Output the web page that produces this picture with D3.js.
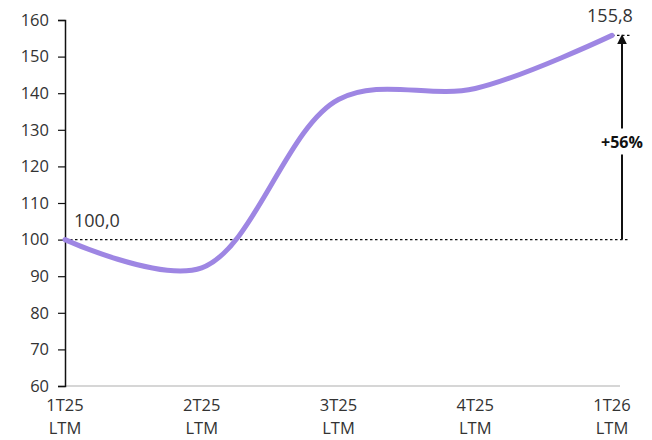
<!DOCTYPE html>
<html>
<head>
<meta charset="utf-8">
<script src="https://cdn.jsdelivr.net/npm/d3@7"></script>
<style>
  body { margin: 0; background: #fff; }
  svg text { font-family: "Open Sans", "Noto Sans", sans-serif; }
</style>
</head>
<body>
<div id="chart"></div>
<script>
"use strict"

let categories = ["1T25", "2T25", "3T25", "4T25", "1T26"];
let subLabel = "LTM";
let values = [100.0, 92.3, 138.3, 141.3, 155.8];
let yTicks = [60, 70, 80, 90, 100, 110, 120, 130, 140, 150, 160];
let changeLabel = "+56%";

let width = 652, height = 440;
let svg = d3.select("#chart").append("svg")
    .attr("width", width)
    .attr("height", height)

let x = d3.scalePoint()
    .domain(categories)
    .range([65, 612]);

let y = d3.scaleLinear()
    .domain([60, 160])
    .range([386, 20]);

// x baseline (grey)
svg.append("line")
    .attr("x1", 65).attr("x2", 620)
    .attr("y1", y(60)).attr("y2", y(60))
    .style("stroke", "#c8c8c8")
    .style("stroke-width", 1.5)

// y axis
let yAxis = d3.axisLeft(y)
    .tickValues(yTicks)
    .tickSize(7)
    .tickPadding(9)
    .tickFormat(d3.format("d"));

let gy = svg.append("g")
    .attr("transform", "translate(65,0)")
    .call(yAxis);
gy.select(".domain").style("stroke", "#111").style("stroke-width", 1.5);
gy.selectAll(".tick line").style("stroke", "#111").style("stroke-width", 1.2);
gy.selectAll("text").style("font-size", "16.5px").style("fill", "#333");

// x labels
categories.forEach(function(c){
    let t = svg.append("text")
        .attr("x", x(c))
        .attr("text-anchor", "middle")
        .style("font-size", "16.5px")
        .style("fill", "#333");
    t.append("tspan").attr("x", x(c)).attr("y", 411).text(c);
    t.append("tspan").attr("x", x(c)).attr("y", 434).text(subLabel);
})

// dotted reference lines
let first = values[0], last = values[values.length - 1];
svg.append("line")
    .attr("x1", x(categories[0])).attr("x2", 630)
    .attr("y1", y(first)).attr("y2", y(first))
    .style("stroke", "#111")
    .style("stroke-width", 1.3)
    .style("stroke-dasharray", "2.5,2.5")

svg.append("line")
    .attr("x1", x(categories[categories.length - 1])).attr("x2", 630)
    .attr("y1", y(last)).attr("y2", y(last))
    .style("stroke", "#111")
    .style("stroke-width", 1.3)
    .style("stroke-dasharray", "2.5,2.5")

// line
let line = d3.line()
    .x(function(d, i){ return x(categories[i]); })
    .y(function(d){ return y(d); })
    .curve(d3.curveCatmullRom.alpha(0.5));

svg.append("path")
    .datum(values)
    .attr("d", line)
    .style("fill", "none")
    .style("stroke", "#9e86e3")
    .style("stroke-width", 5)
    .style("stroke-linecap", "round")

// value labels
svg.append("text")
    .attr("x", 74).attr("y", y(first) - 13)
    .style("font-size", "18px")
    .style("fill", "#333")
    .text(d3.format(".1f")(first).replace(".", ","));

svg.append("text")
    .attr("x", 610).attr("y", 22)
    .attr("text-anchor", "middle")
    .style("font-size", "18px")
    .style("fill", "#333")
    .text(d3.format(".1f")(last).replace(".", ","));

// arrow
svg.append("defs").append("marker")
    .attr("id", "arrowHead")
    .attr("viewBox", "0 0 10 10")
    .attr("refX", 8).attr("refY", 5)
    .attr("markerWidth", 10).attr("markerHeight", 10)
    .attr("markerUnits", "userSpaceOnUse")
    .attr("orient", "auto")
    .append("path")
    .attr("d", "M0,0 L10,5 L0,10 Z")
    .style("fill", "#111");

let ax = 622;
svg.append("line")
    .attr("x1", ax).attr("x2", ax)
    .attr("y1", y(first)).attr("y2", y(last) + 1)
    .style("stroke", "#111")
    .style("stroke-width", 2)
    .attr("marker-end", "url(#arrowHead)")

let midY = (y(first) + y(last)) / 2 + 5;
svg.append("rect")
    .attr("x", ax - 6).attr("y", midY - 14)
    .attr("width", 12).attr("height", 26)
    .style("fill", "#fff")

svg.append("text")
    .attr("x", ax).attr("y", midY + 6)
    .attr("text-anchor", "middle")
    .style("font-size", "16px")
    .style("font-weight", "bold")
    .style("fill", "#111")
    .text(changeLabel);
</script>
</body>
</html>
